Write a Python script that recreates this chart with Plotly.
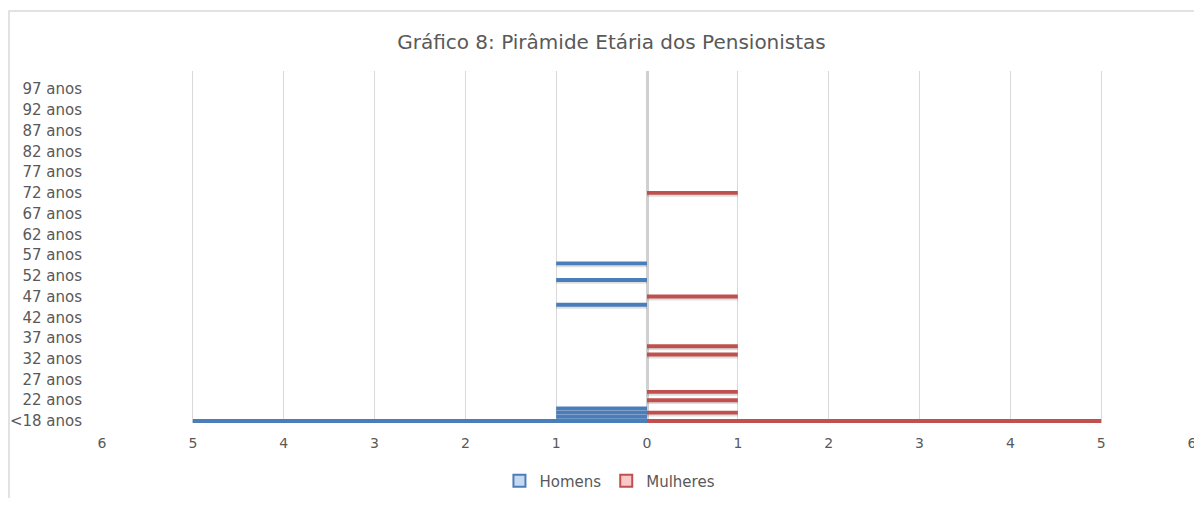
import plotly.graph_objects as go

# Age categories: "<18 anos", 18 .. 100 anos
categorias = ["<18 anos"] + [f"{a} anos" for a in range(18, 101)]

# Number of pensioners per age (index aligned with categorias)
homens = [
    5, 1, 1, 1, 0, 0, 0, 0, 0, 0,   # <18, 18-26
    0, 0, 0, 0, 0, 0, 0, 0, 0, 0,   # 27-36
    0, 0, 0, 0, 0, 0, 0, 0, 1, 0,   # 37-46
    0, 0, 0, 0, 1, 0, 0, 0, 1, 0,   # 47-56
    0, 0, 0, 0, 0, 0, 0, 0, 0, 0,   # 57-66
    0, 0, 0, 0, 0, 0, 0, 0, 0, 0,   # 67-76
    0, 0, 0, 0, 0, 0, 0, 0, 0, 0,   # 77-86
    0, 0, 0, 0, 0, 0, 0, 0, 0, 0,   # 87-96
    0, 0, 0, 0,                     # 97-100
]
mulheres = [
    5, 0, 1, 0, 0, 1, 0, 1, 0, 0,   # <18, 18-26
    0, 0, 0, 0, 0, 0, 1, 0, 1, 0,   # 27-36
    0, 0, 0, 0, 0, 0, 0, 0, 0, 0,   # 37-46
    1, 0, 0, 0, 0, 0, 0, 0, 0, 0,   # 47-56
    0, 0, 0, 0, 0, 0, 0, 0, 0, 0,   # 57-66
    0, 0, 0, 0, 0, 1, 0, 0, 0, 0,   # 67-76
    0, 0, 0, 0, 0, 0, 0, 0, 0, 0,   # 77-86
    0, 0, 0, 0, 0, 0, 0, 0, 0, 0,   # 87-96
    0, 0, 0, 0,                     # 97-100
]

x_ticks = [-6, -5, -4, -3, -2, -1, 0, 1, 2, 3, 4, 5, 6]
x_ticktext = ["6", "5", "4", "3", "2", "1", "0", "1", "2", "3", "4", "5", "6"]
y_ticks = categorias[0:81:5]

titulo = "Gráfico 8: Pirâmide Etária dos Pensionistas"

AZUL = "#4A7EBB"
VERMELHO = "#C0504D"
TXT = "#595959"
FONT = "DejaVu Sans"

# the page body has an 8px margin, so the figure is drawn smaller to fit
W, H = 1194, 490
BAR_W = 0.95

fig = go.Figure()
homens_neg = [-v for v in homens]
# soft drop shadows (as in the original chart)
for vals in (homens_neg, mulheres):
    fig.add_trace(go.Bar(
        y=categorias, x=vals, orientation="h", width=BAR_W, offset=-BAR_W / 2 - 0.45,
        marker=dict(color="rgba(0,0,0,0.13)", line=dict(width=0)),
        showlegend=False, hoverinfo="skip",
    ))
fig.add_trace(go.Bar(
    y=categorias, x=homens_neg, orientation="h", width=BAR_W,
    marker=dict(color=AZUL, line=dict(width=0)), showlegend=False, name="Homens",
))
fig.add_trace(go.Bar(
    y=categorias, x=mulheres, orientation="h", width=BAR_W,
    marker=dict(color=VERMELHO, line=dict(width=0)), showlegend=False, name="Mulheres",
))
# legend-only entries styled like the original legend keys
fig.add_trace(go.Bar(
    y=[None], x=[None], orientation="h", name="Homens",
    marker=dict(color="#C6D9F1", line=dict(color=AZUL, width=2)),
))
fig.add_trace(go.Bar(
    y=[None], x=[None], orientation="h", name="Mulheres",
    marker=dict(color="#F9C8C8", line=dict(color=VERMELHO, width=2)),
))

fig.update_layout(
    width=W, height=H,
    margin=dict(l=94, r=10, t=63, b=75, autoexpand=False),
    paper_bgcolor="white", plot_bgcolor="white",
    barmode="overlay",
    font=dict(family=FONT, color=TXT, size=14),
    title=dict(text=titulo, x=603.5 / W, xanchor="center", y=1 - 34 / H, yanchor="middle",
               font=dict(size=20, color=TXT, family=FONT)),
    legend=dict(orientation="h", x=0.466, xanchor="center", y=-0.165, yanchor="middle",
                font=dict(size=15, color=TXT), itemwidth=30, traceorder="normal"),
    xaxis=dict(range=[-6, 6], tickvals=x_ticks, ticktext=x_ticktext, automargin=False,
               showgrid=True, gridcolor="#D9D9D9", gridwidth=1.3,
               zeroline=True, zerolinecolor="#D0D0D0", zerolinewidth=2.5,
               showline=False, ticks="", tickfont=dict(size=14, color=TXT),
               ticklabelstandoff=10, fixedrange=True),
    yaxis=dict(type="category", categoryorder="array", categoryarray=categorias,
               range=[-0.5, 84.4], tickvals=y_ticks, ticktext=y_ticks, automargin=False,
               showgrid=False, zeroline=False, showline=False, ticks="",
               tickfont=dict(size=15, color=TXT), ticklabelstandoff=19),
    shapes=[dict(type="rect", xref="paper", yref="paper",
                 x0=-93 / 1090, x1=1.2, y0=-0.6, y1=1 + 60 / 352,
                 line=dict(color="#D9D9D9", width=1.5), fillcolor="rgba(0,0,0,0)",
                 layer="below")],
)

fig.write_html("out.html")
